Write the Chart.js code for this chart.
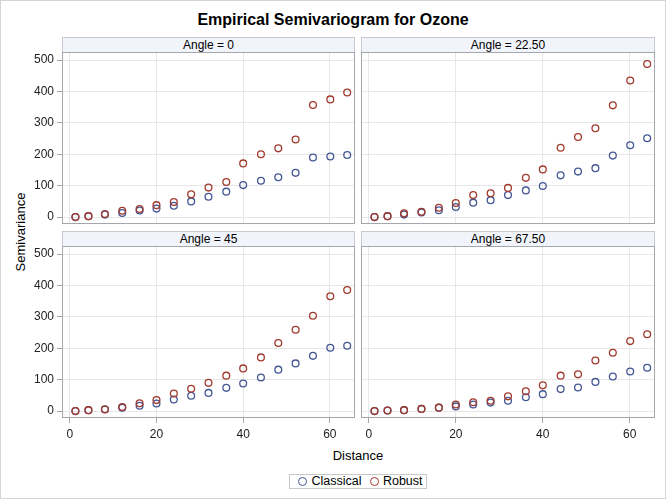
<!DOCTYPE html>
<html>
<head>
<meta charset="utf-8">
<script src="https://cdn.jsdelivr.net/npm/chart.js@4"></script>
<style>
  html, body { margin: 0; padding: 0; background: #fff; }
  body { font-family: "Liberation Sans", Arial, sans-serif; color: #000; }
  #page { position: relative; width: 664px; height: 497px; border: 1px solid #d4d4d4; overflow: hidden; }
  .abs { position: absolute; }
  #title { left: 0; width: 664px; top: 10px; text-align: center; font-weight: bold; font-size: 16px; }
  .head { background: #f1f5fb; border: 1px solid #c6c9cf; border-bottom: none; box-sizing: border-box;
          font-size: 12px; text-align: center; line-height: 14px; height: 15px; }
  #ylab { left: 19px; top: 231px; font-size: 13px; transform: translate(-50%, -50%) rotate(-90deg); transform-origin: center; white-space: nowrap; }
  #xlab { left: 0; width: 714px; top: 447px; font-size: 13px; text-align: center; }
  #legend { left: 288px; top: 473px; width: 138px; height: 15px; border: 1px solid #c8c8c8; box-sizing: border-box;
            font-size: 12.5px; line-height: 13px; text-align: center; white-space: nowrap; }
  .mk { display: inline-block; width: 7px; height: 7px; border-radius: 50%; border: 1.3px solid; vertical-align: -1px; margin: 0 4px 0 5px; }
</style>
</head>
<body>
<div id="page">
  <div id="title" class="abs">Empirical Semivariogram for Ozone</div>
  <div id="ylab" class="abs">Semivariance</div>
  <div id="xlab" class="abs">Distance</div>
  <div id="legend" class="abs"><span class="mk" style="border-color:#445694"></span>Classical <span class="mk" style="border-color:#a23a2e"></span>Robust</div>
</div>
<script>
// lag distances (same lag classes for every angle)
const distance = [1.3, 4.3, 8.1, 12.1, 16.1, 20, 24, 28, 32, 36.1, 40, 44.1, 48.1, 52.1, 56.1, 60.1, 64];

const angles = ["0", "22.50", "45", "67.50"];

const classical0  = [0, 3, 8, 13, 21, 27, 36, 50, 65, 81, 102, 116, 127, 141, 190, 193, 198];
const robust0     = [0, 3, 10, 20, 26, 38, 48, 73, 94, 112, 171, 200, 219, 247, 357, 375, 397];
const classical22 = [0, 3, 8, 15, 22, 32, 46, 54, 70, 85, 99, 133, 145, 156, 196, 229, 251];
const robust22    = [0, 3, 12, 17, 30, 45, 70, 76, 93, 125, 152, 221, 255, 283, 356, 435, 488];
const classical45 = [0, 3, 6, 11, 17, 24, 37, 49, 58, 74, 88, 107, 132, 152, 176, 202, 208];
const robust45    = [0, 3, 5, 13, 25, 35, 56, 71, 90, 113, 136, 171, 217, 259, 304, 366, 386];
const classical67 = [0, 2, 3, 7, 11, 15, 21, 27, 33, 44, 54, 70, 75, 93, 110, 126, 138];
const robust67    = [0, 2, 3, 7, 11, 21, 28, 33, 47, 63, 82, 113, 117, 161, 186, 223, 245];

const xTicks = [0, 20, 40, 60];
const yTicks = [0, 100, 200, 300, 400, 500];

const classical = [classical0, classical22, classical45, classical67];
const robust = [robust0, robust22, robust45, robust67];

const BLUE = "#445694", RED = "#a23a2e";
const FONT = "'Liberation Sans', Arial, sans-serif";

// panel frames (plot area) in page pixels
const cols = [{ left: 61, right: 354 }, { left: 360, right: 654 }];
const rows = [{ top: 51, bottom: 223 }, { top: 245, bottom: 417 }];

const page = document.getElementById("page");

const framePlugin = {
  id: "frame",
  afterDraw(chart) {
    const a = chart.chartArea, c = chart.ctx;
    c.save();
    c.strokeStyle = "#a4a7ab";
    c.lineWidth = 1;
    c.strokeRect(Math.round(a.left) + 0.5, Math.round(a.top) + 0.5, Math.round(a.right - a.left) - 1, Math.round(a.bottom - a.top) - 1);
    c.restore();
  }
};

function pts(ys) { return distance.map((d, i) => ({ x: d, y: ys[i] })); }

angles.forEach((ang, k) => {
  const r = Math.floor(k / 2), cI = k % 2;
  const col = cols[cI], row = rows[r];
  const showY = cI === 0, showX = r === 1;

  const cLeft = showY ? 0 : col.left - 2;
  const cTop = row.top - 2;
  const cW = col.right + 2 - cLeft;
  const xAxisH = showX ? 28 : 0;
  const cH = (row.bottom - row.top) + 2 + xAxisH + (showX ? 0 : 2);

  const head = document.createElement("div");
  head.className = "abs head";
  head.style.left = col.left + "px";
  head.style.top = (row.top - 15) + "px";
  head.style.width = (col.right - col.left) + "px";
  head.textContent = "Angle = " + ang;
  page.appendChild(head);

  const wrap = document.createElement("div");
  wrap.className = "abs";
  wrap.style.left = cLeft + "px";
  wrap.style.top = cTop + "px";
  wrap.style.width = cW + "px";
  wrap.style.height = cH + "px";
  const cv = document.createElement("canvas");
  wrap.appendChild(cv);
  page.appendChild(wrap);

  new Chart(cv, {
    type: "scatter",
    data: {
      datasets: [
        { label: "Classical", data: pts(classical[k]), borderColor: BLUE, backgroundColor: "rgba(0,0,0,0)",
          pointRadius: 3.4, pointBorderWidth: 1.3, pointHoverRadius: 3.4, order: 2 },
        { label: "Robust", data: pts(robust[k]), borderColor: RED, backgroundColor: "rgba(0,0,0,0)",
          pointRadius: 3.4, pointBorderWidth: 1.3, pointHoverRadius: 3.4, order: 1 }
      ]
    },
    options: {
      responsive: true,
      maintainAspectRatio: false,
      animation: false,
      events: [],
      layout: { autoPadding: false, padding: { left: showY ? 0 : 2, right: 2, top: 2, bottom: showX ? 0 : 2 } },
      plugins: { legend: { display: false }, tooltip: { enabled: false } },
      scales: {
        x: {
          type: "linear", min: -1.8, max: 65.8,
          afterBuildTicks: s => { s.ticks = xTicks.map(v => ({ value: v })); },
          afterFit: s => { s.height = xAxisH; s.paddingLeft = 0; s.paddingRight = 0; },
          grid: { color: "#e7e7e7", lineWidth: 1, drawTicks: showX, tickLength: 5, tickColor: "#a4a7ab" },
          border: { display: false },
          ticks: { display: showX, color: "#222", font: { family: FONT, size: 12 }, padding: 4, maxRotation: 0 }
        },
        y: {
          type: "linear", min: -22, max: 526,
          afterBuildTicks: s => { s.ticks = yTicks.map(v => ({ value: v })); },
          afterFit: s => { s.width = showY ? col.left : 0; s.paddingTop = 0; s.paddingBottom = 0; },
          grid: { color: "#e7e7e7", lineWidth: 1, drawTicks: showY, tickLength: 5, tickColor: "#a4a7ab" },
          border: { display: false },
          ticks: { display: showY, color: "#222", font: { family: FONT, size: 12 }, padding: 3 }
        }
      }
    },
    plugins: [framePlugin]
  });
});
</script>
</body>
</html>
